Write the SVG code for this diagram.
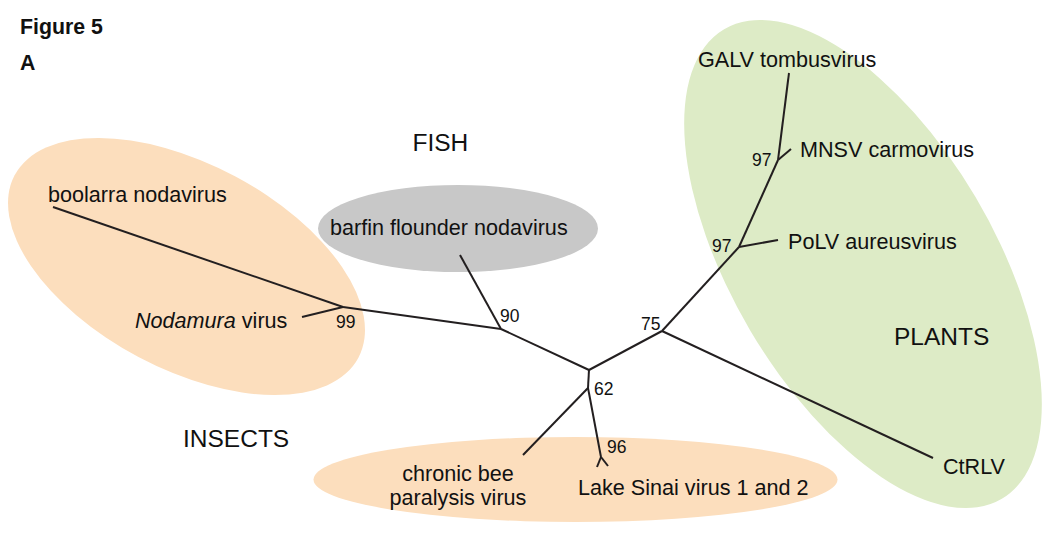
<svg xmlns="http://www.w3.org/2000/svg" width="1048" height="536" viewBox="0 0 1048 536">
<style>
text{font-family:"Liberation Sans",Arial,sans-serif;fill:#111}
.leaf{font-size:21.6px}
.grp{font-size:24.5px}
.num{font-size:17.5px}
.hd{font-size:21.3px;font-weight:bold}
.orange{fill:#FCDEBD}
.edge{stroke:#231f20;stroke-width:2;fill:none;stroke-linecap:butt}
</style>
<rect width="1048" height="536" fill="#fff"/>
<text class="hd" x="20" y="34">Figure 5</text>
<text class="hd" x="20" y="70">A</text>

<g id="insects-group">
<ellipse class="orange" cx="186.5" cy="266.5" rx="194.6" ry="102.5" transform="rotate(27.95 186.5 266.5)"/>
<text class="grp" x="183" y="446.5">INSECTS</text>
</g>
<g id="fish-group">
<ellipse cx="458" cy="228.5" rx="140" ry="43.5" fill="#C8C8C8"/>
<text class="grp" x="412.5" y="150.5">FISH</text>
</g>
<g id="bee-group">
<ellipse class="orange" cx="575.5" cy="479.5" rx="262" ry="42.5"/>
</g>
<g id="plants-group">
<ellipse cx="863" cy="264" rx="272.8" ry="130.9" fill="#DDEBC6" transform="rotate(59.4 863 264)"/>
<text class="grp" x="894" y="344.5">PLANTS</text>
</g>

<g id="connectors" class="edge">
<path d="M53 207 L343 307"/>
<path d="M302 317 L343 307"/>
<path d="M343 307 L501 329"/>
<path d="M460 255 L501 329"/>
<path d="M501 329 L589 370"/>
<path d="M589 370 L662 331"/>
<path d="M589 370 L588 388"/>
<path d="M588 388 L523 455"/>
<path d="M588 388 L601 457"/>
<path d="M601 457 L597 467"/>
<path d="M601 457 L608 466"/>
<path d="M662 331 L933 458"/>
<path d="M662 331 L739 247"/>
<path d="M739 247 L778 240"/>
<path d="M739 247 L778 160"/>
<path d="M778 160 L791 149"/>
<path d="M778 160 L789 73"/>
</g>

<g id="node-boolarra"><text class="leaf" x="48" y="201.5">boolarra nodavirus</text></g>
<g id="node-nodamura"><text class="leaf" x="135" y="328"><tspan font-style="italic">Nodamura</tspan> virus</text></g>
<g id="node-barfin"><text class="leaf" x="330" y="235">barfin flounder nodavirus</text></g>
<g id="node-chronic"><text class="leaf" text-anchor="middle"><tspan x="458" y="480.5">chronic bee</tspan><tspan x="458" y="505">paralysis virus</tspan></text></g>
<g id="node-lakesinai"><text class="leaf" x="578" y="495">Lake Sinai virus 1 and 2</text></g>
<g id="node-galv"><text class="leaf" x="698" y="67">GALV tombusvirus</text></g>
<g id="node-mnsv"><text class="leaf" x="800" y="157">MNSV carmovirus</text></g>
<g id="node-polv"><text class="leaf" x="788" y="249">PoLV aureusvirus</text></g>
<g id="node-ctrlv"><text class="leaf" x="943" y="474">CtRLV</text></g>

<g id="bootstrap">
<text class="num" x="336" y="328">99</text>
<text class="num" x="500" y="322">90</text>
<text class="num" x="641" y="330">75</text>
<text class="num" x="594" y="395">62</text>
<text class="num" x="607" y="453">96</text>
<text class="num" x="752" y="166">97</text>
<text class="num" x="712" y="252">97</text>
</g>
</svg>
